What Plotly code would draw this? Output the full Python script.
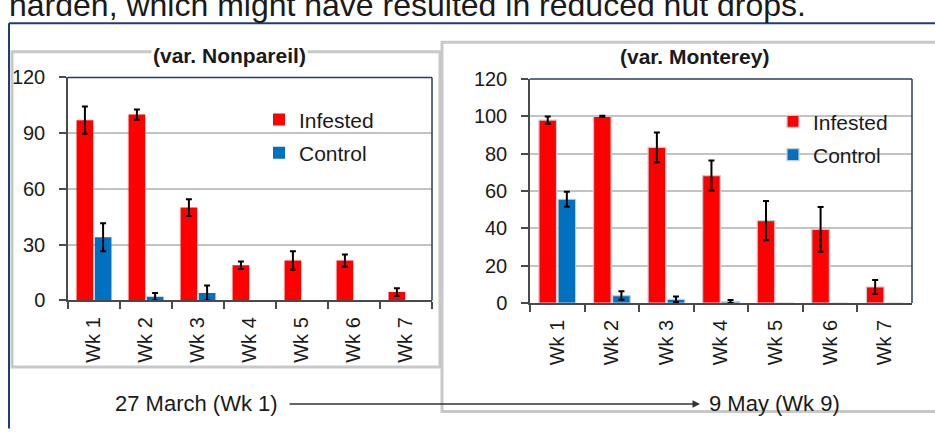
import plotly.graph_objects as go

# ---------------- data ----------------
weeks = ["Wk 1", "Wk 2", "Wk 3", "Wk 4", "Wk 5", "Wk 6", "Wk 7"]

nonpareil_infested = [97, 100, 50, 19, 21.5, 21.5, 4.5]
nonpareil_infested_err = [7.3, 2.8, 4.5, 2.0, 5.0, 3.2, 2.1]
nonpareil_control = [34, 2, 4, 0, 0, 0, 0]
nonpareil_control_err = [7.5, 2.0, 4.0]          # no error bars where control is 0

monterey_infested = [98, 100, 83.4, 68.3, 44.2, 39.5, 8.6]
monterey_infested_err = [2.0, 0.3, 8.0, 8.0, 10.5, 12.0, 3.8]
monterey_control = [55.6, 4, 2, 0.8, 0, 0, 0]
monterey_control_err = [4.0, 2.3, 1.5, 0.8]

nonpareil_ticks = [0, 30, 60, 90, 120]
monterey_ticks = [0, 20, 40, 60, 80, 100, 120]

title_left = "(var. Nonpareil)"
title_right = "(var. Monterey)"
top_text = "harden, which might have resulted in reduced nut drops."
start_label = "27 March (Wk 1)"
end_label = "9 May (Wk 9)"

RED = "#FF0000"
BLUE = "#0070C0"
FONT = "Liberation Sans, Arial, sans-serif"
TXT = "#1a1a1a"

W, H = 935, 432


def px(x):
    return x / W


def py(y):
    return 1 - y / H


fig = go.Figure()

err_style = dict(type="data", color="black", thickness=2, width=3, visible=True)

fig.add_trace(go.Bar(x=weeks, y=nonpareil_infested, name="Infested", legendgroup="a1",
                     marker=dict(color=RED, line=dict(width=0)),
                     error_y=dict(array=nonpareil_infested_err, **err_style),
                     xaxis="x", yaxis="y", legend="legend"))
fig.add_trace(go.Bar(x=weeks, y=nonpareil_control, name="Control", legendgroup="a2",
                     marker=dict(color=BLUE, line=dict(width=0)),
                     error_y=dict(array=nonpareil_control_err, **err_style),
                     xaxis="x", yaxis="y", legend="legend"))
fig.add_trace(go.Bar(x=weeks, y=monterey_infested, name="Infested", legendgroup="b1",
                     marker=dict(color=RED, line=dict(width=1.2, color="#c9ccd3")),
                     error_y=dict(array=monterey_infested_err, **err_style),
                     xaxis="x2", yaxis="y2", legend="legend2"))
fig.add_trace(go.Bar(x=weeks, y=monterey_control, name="Control", legendgroup="b2",
                     marker=dict(color=BLUE, line=dict(width=1.2, color="#c9ccd3")),
                     error_y=dict(array=monterey_control_err, **err_style),
                     xaxis="x2", yaxis="y2", legend="legend2"))

AXIS_LINE = "#4a4a4a"
GRID = "#c3c3c3"

xcommon = dict(type="category", showline=True, linecolor=AXIS_LINE, linewidth=1.5,
               ticks="outside", tickson="boundaries", ticklen=7, tickcolor=AXIS_LINE,
               tickwidth=1.5, tickangle=-90, showgrid=False, ticklabelstandoff=7,
               tickfont=dict(family=FONT, size=20, color=TXT), fixedrange=True)
ycommon = dict(range=[0, 120], showline=True, linecolor=AXIS_LINE, linewidth=1.5,
               ticks="outside", ticklen=7, tickcolor=AXIS_LINE, tickwidth=1.5,
               showgrid=True, gridcolor=GRID, gridwidth=2, zeroline=False,
               ticklabelstandoff=10,
               tickfont=dict(family=FONT, size=20, color=TXT), fixedrange=True)

legend_common = dict(xanchor="left", yanchor="top", traceorder="grouped", tracegroupgap=3,
                     font=dict(family=FONT, size=21, color=TXT), bgcolor="rgba(0,0,0,0)",
                     itemwidth=30)

fig.update_layout(
    width=W, height=H,
    margin=dict(l=0, r=0, t=0, b=0),
    paper_bgcolor="white", plot_bgcolor="white",
    barmode="group", bargap=0.3, bargroupgap=0.08,
    xaxis=dict(domain=[px(68), px(432)], anchor="y", **xcommon),
    yaxis=dict(domain=[py(305), py(70)], anchor="x", tickvals=nonpareil_ticks, **ycommon),
    xaxis2=dict(domain=[px(530), px(912)], anchor="y2", **xcommon),
    yaxis2=dict(domain=[py(307.7), py(71.7)], anchor="x2", tickvals=monterey_ticks, **ycommon),
    legend=dict(x=px(259), y=py(93), **legend_common),
    legend2=dict(x=px(773), y=py(95), **legend_common),
    showlegend=True,
)

NAVY = "#2a3a66"
shapes = [
    # dark blue slide frame
    dict(type="line", xref="paper", yref="paper", x0=px(9), x1=px(940), y0=py(13), y1=py(13),
         line=dict(color="#1f3b78", width=2)),
    dict(type="line", xref="paper", yref="paper", x0=px(9), x1=px(9), y0=py(13), y1=py(440),
         line=dict(color="#1f3b78", width=2)),
    # chart boxes
    dict(type="rect", xref="paper", yref="paper", x0=px(442), x1=px(945), y0=py(422), y1=py(33),
         line=dict(color="#c8c8c8", width=3)),
    dict(type="rect", xref="paper", yref="paper", x0=px(12), x1=px(440), y0=py(375), y1=py(43),
         line=dict(color="#c8c8c8", width=3)),
    # top/right plot borders
    dict(type="line", xref="x domain", yref="y domain", x0=0, x1=1, y0=1, y1=1,
         line=dict(color=NAVY, width=1.5)),
    dict(type="line", xref="x domain", yref="y domain", x0=1, x1=1, y0=0, y1=1,
         line=dict(color=NAVY, width=1.5)),
    dict(type="line", xref="x2 domain", yref="y2 domain", x0=0, x1=1, y0=1, y1=1,
         line=dict(color=NAVY, width=1.5)),
    dict(type="line", xref="x2 domain", yref="y2 domain", x0=1, x1=1, y0=0, y1=1,
         line=dict(color=NAVY, width=1.5)),
]

annotations = [
    dict(text=top_text, xref="paper", yref="paper", x=px(7), y=py(15), xanchor="left",
         yanchor="bottom", showarrow=False, font=dict(family=FONT, size=32, color=TXT)),
    dict(text="<b>" + title_left + "</b>", xref="paper", yref="paper", x=px(229.5), y=py(47),
         xanchor="center", yanchor="middle", showarrow=False, bgcolor="white",
         font=dict(family=FONT, size=21, color=TXT)),
    dict(text="<b>" + title_right + "</b>", xref="paper", yref="paper", x=px(694.5), y=py(48),
         xanchor="center", yanchor="middle", showarrow=False,
         font=dict(family=FONT, size=21, color=TXT)),
    dict(text=start_label, xref="paper", yref="paper", x=px(196), y=py(414),
         xanchor="center", yanchor="middle", showarrow=False,
         font=dict(family=FONT, size=22, color=TXT)),
    dict(text=end_label, xref="paper", yref="paper", x=px(707), y=py(414),
         xanchor="left", yanchor="middle", showarrow=False,
         font=dict(family=FONT, size=22, color=TXT)),
    dict(text="", xref="paper", yref="paper", x=px(700), y=py(414), ax=-412, ay=0,
         showarrow=True, arrowhead=2, arrowsize=1, arrowwidth=1.5, arrowcolor="#333333",
         standoff=0, startstandoff=0),
]

fig.update_layout(shapes=shapes, annotations=annotations)

fig.write_html("out.html", config={"displayModeBar": False},
               post_script="document.body.style.margin='0';document.body.style.overflow='hidden';")
